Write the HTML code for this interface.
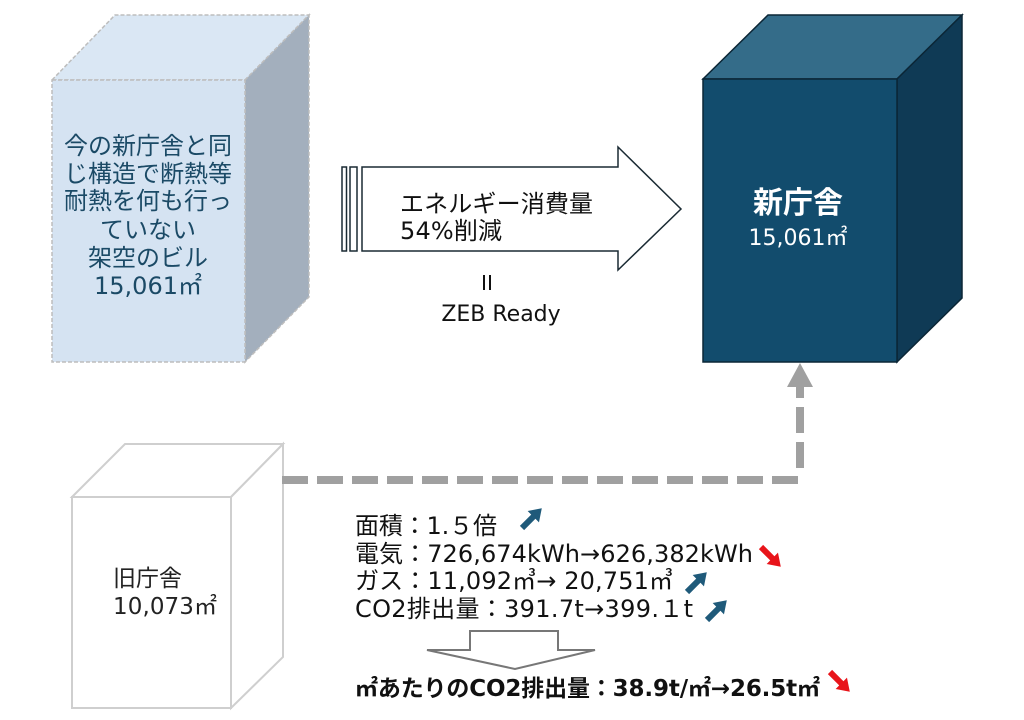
<!DOCTYPE html>
<html><head><meta charset="utf-8"><style>
html,body{margin:0;padding:0;background:#fff;}
svg{display:block;}
text{font-family:"DejaVu Sans","Noto Sans CJK JP",sans-serif;}
</style></head><body>
<svg width="1024" height="720" viewBox="0 0 1024 720" xmlns="http://www.w3.org/2000/svg">
<!-- left hypothetical cube -->
<g stroke="#bdbdbd" stroke-width="1.5" stroke-dasharray="4 2">
<polygon points="52,80 115,15 309,15 245,80" fill="#dae7f4"/>
<polygon points="245,80 309,15 309,297 245,362" fill="#a3afbd"/>
<rect x="52" y="80" width="193" height="282" fill="#d5e3f2"/>
</g>
<g fill="#1b4a66" font-size="24" text-anchor="middle">
<text x="148" y="154">今の新庁舎と同</text>
<text x="148" y="182">じ構造で断熱等</text>
<text x="148" y="209">耐熱を何も行っ</text>
<text x="148" y="238">ていない</text>
<text x="148" y="266">架空のビル</text>
<text x="148" y="294">15,061㎡</text>
</g>

<!-- right new cube -->
<g stroke="#0b2636" stroke-width="1.5">
<polygon points="703,79 768,15 962,15 897,79" fill="#346c89"/>
<polygon points="897,79 962,15 962,298 897,362" fill="#0f3a55"/>
<rect x="703" y="79" width="194" height="283" fill="#124c6d"/>
</g>
<text x="798" y="213" fill="#fff" font-size="30" font-weight="bold" text-anchor="middle">新庁舎</text>
<text x="798" y="245" fill="#fff" font-size="22" text-anchor="middle">15,061㎡</text>

<!-- big arrow -->
<g stroke="#1a2a33" stroke-width="1.5" fill="#fff">
<rect x="342" y="167" width="4.5" height="84"/>
<rect x="350" y="167" width="7" height="84"/>
<polygon points="362,167 618,167 618,147 681,209 618,270 618,251 362,251"/>
</g>
<text x="400" y="212" font-size="24" fill="#111" textLength="193" lengthAdjust="spacing">エネルギー消費量</text>
<text x="400" y="239" font-size="24" fill="#111" textLength="102" lengthAdjust="spacing">54%削減</text>
<g stroke="#111" stroke-width="2">
<line x1="484" y1="275" x2="484" y2="290"/>
<line x1="490" y1="275" x2="490" y2="290"/>
</g>
<text x="501" y="321" font-size="22" fill="#111" text-anchor="middle">ZEB Ready</text>

<!-- old cube -->
<g stroke="#cfcfcf" stroke-width="2" fill="#fff">
<polygon points="72,497 125,444 283,444 231,497"/>
<polygon points="231,497 283,444 283,657 231,708"/>
<rect x="72" y="497" width="159" height="211"/>
</g>
<text x="113" y="586" font-size="23" fill="#222">旧庁舎</text>
<text x="113" y="614" font-size="23" fill="#222" textLength="104" lengthAdjust="spacing">10,073㎡</text>

<!-- dashed connector -->
<g stroke="#a0a0a0" stroke-width="8" fill="none">
<path d="M282,480 H804" stroke-dasharray="26 9"/>
<path d="M800,468 V396" stroke-dasharray="26 9"/>
<path d="M800,398 V386"/>
</g>
<polygon points="800,363 813,387 787,387" fill="#a0a0a0"/>

<!-- list -->
<g font-size="24" fill="#111">
<text x="355" y="534" textLength="142" lengthAdjust="spacing">面積：1.５倍</text>
<text x="355" y="562" textLength="398" lengthAdjust="spacing">電気：726,674kWh→626,382kWh</text>
<text x="355" y="589" textLength="318" lengthAdjust="spacing">ガス：11,092㎥→ 20,751㎥</text>
<text x="355" y="617" textLength="338" lengthAdjust="spacing">CO2排出量：391.7t→399.１t</text>
</g>

<!-- small arrows -->
<defs>
<polygon id="ar" points="0,-3 16,-3 16,-8 28,0 16,8 16,3 0,3"/>
</defs>
<use href="#ar" fill="#1f5a7a" transform="translate(522,528) rotate(-45)"/>
<use href="#ar" fill="#e8141a" transform="translate(761,547) rotate(45)"/>
<use href="#ar" fill="#1f5a7a" transform="translate(687,592) rotate(-45)"/>
<use href="#ar" fill="#1f5a7a" transform="translate(707,620) rotate(-45)"/>
<use href="#ar" fill="#e8141a" transform="translate(830,672) rotate(45)"/>

<!-- down arrow -->
<polygon points="470,631 558,631 558,650 595,650 515,669 427,650 470,650" fill="#fff" stroke="#777" stroke-width="2"/>

<text x="355" y="696" font-size="23" font-weight="bold" fill="#111" textLength="465" lengthAdjust="spacing">㎡あたりのCO2排出量：38.9t/㎡→26.5t㎡</text>
</svg>
</body></html>
